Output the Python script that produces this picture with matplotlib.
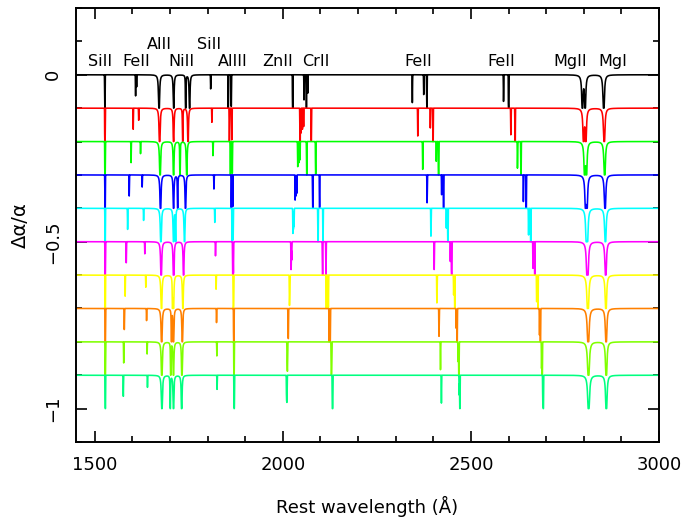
import numpy as np
import matplotlib
matplotlib.use("Agg")
import matplotlib.pyplot as plt
from matplotlib.ticker import MultipleLocator, FixedLocator

# ---------------- data ----------------
# absorption lines: rest wavelength (A), sensitivity coefficient q (cm^-1)
line_ions = ["SiII", "FeII", "FeII", "AlII", "NiII", "NiII", "NiII", "SiII",
             "AlIII", "AlIII", "ZnII", "CrII", "CrII", "ZnII", "CrII",
             "FeII", "FeII", "FeII", "FeII", "FeII", "MgII", "MgII", "MgI"]
rest_wave = [1526.707, 1608.451, 1611.200, 1670.789, 1709.604, 1741.553, 1751.915, 1808.013,
             1854.718, 1862.790, 2026.137, 2056.257, 2062.236, 2062.664, 2066.164,
             2344.214, 2374.461, 2382.765, 2586.650, 2600.173, 2796.352, 2803.531, 2852.964]
q_coeff = [50, -1300, 1100, 270, -20, -1400, -700, 520,
           464, 216, 2479, -1110, -1280, 1584, -1360,
           1375, 1625, 1505, 1515, 1330, 211, 120, 86]
# central optical depth and damping-wing strength of each line
tau0 = [12, 1.0, 0.45, 12, 12, 10, 12, 0.55,
        6, 3, 12, 1.4, 1.0, 4, 0.8,
        1.8, 0.9, 12, 1.6, 12, 12, 12, 12]
damp = [0, 0, 0, 2.5, 1.5, 0.4, 1.5, 0,
        0, 0, 0, 0, 0, 0, 0,
        0, 0, 0, 0, 0, 3.5, 3.5, 4.5]

# spectra: delta alpha / alpha of each curve and its colour
delta_alpha = [0.0, -0.1, -0.2, -0.3, -0.4, -0.5, -0.6, -0.7, -0.8, -0.9]
curve_colors = ["black", "red", "#00ff00", "blue", "cyan", "magenta",
                "yellow", "#ff8000", "#80ff00", "#00ff80"]

# labels above the spectra
label_text = ["SiII", "FeII", "AlII", "NiII", "SiII", "AlIII", "ZnII", "CrII",
              "FeII", "FeII", "MgII", "MgI"]
label_x = [1513, 1609, 1671, 1729, 1804, 1867, 1985, 2087, 2360, 2580, 2764, 2878]
label_y = [0.04, 0.04, 0.092, 0.04, 0.092, 0.04, 0.04, 0.04, 0.04, 0.04, 0.04, 0.04]

x_ticks = [1500, 2000, 2500, 3000]
y_ticks = [0, -0.5, -1]
y_tick_labels = ["0", "\u22120.5", "\u22121"]

# ---------------- plot ----------------
plt.rcParams["font.family"] = ["DejaVu Sans"]
fig = plt.figure(figsize=(6.89, 5.24), dpi=100)
ax = fig.add_axes([76 / 689, 1 - 442 / 524, (659 - 76) / 689, (442 - 8) / 524])

wl = np.arange(1450.0, 3000.0, 0.05)
b = 0.5
for da, col in zip(delta_alpha, curve_colors):
    xfac = (1 + da) ** 2 - 1
    tau = np.zeros_like(wl)
    for lam0, q, t0, dp in zip(rest_wave, q_coeff, tau0, damp):
        w0 = 1e8 / lam0
        lam = 1e8 / (w0 + q * xfac)
        d = wl - lam
        tau += t0 * np.exp(-(d / b) ** 2)
        if dp > 0:
            tau += dp / (d ** 2 + 0.05)
    flux = np.exp(-tau)
    ax.plot(wl, da + 0.1 * (flux - 1), color=col, lw=1.15)

for t, x, y in zip(label_text, label_x, label_y):
    ax.text(x, y, t, ha="center", va="center", fontsize=11.5)

ax.set_xlim(1450, 3000)
ax.set_ylim(-1.1, 0.2)
ax.xaxis.set_major_locator(FixedLocator(x_ticks))
ax.xaxis.set_minor_locator(MultipleLocator(100))
ax.yaxis.set_major_locator(FixedLocator(y_ticks))
ax.set_yticklabels(y_tick_labels)
ax.yaxis.set_minor_locator(MultipleLocator(0.1))
ax.tick_params(which="both", direction="in", top=True, right=True, width=1.2,
               labelsize=13)
ax.tick_params(which="major", length=8)
ax.tick_params(which="minor", length=4.5)
ax.tick_params(axis="x", pad=10)
ax.tick_params(axis="y", pad=10)
for lab in ax.get_yticklabels():
    lab.set_rotation(90)
    lab.set_va("center")
for s in ax.spines.values():
    s.set_linewidth(1.4)

ax.set_xlabel("Rest wavelength (\u00c5)", fontsize=13, labelpad=16)
ax.set_ylabel("\u0394\u03b1/\u03b1", fontsize=14, labelpad=10)

fig.savefig("out.png", dpi=100)
